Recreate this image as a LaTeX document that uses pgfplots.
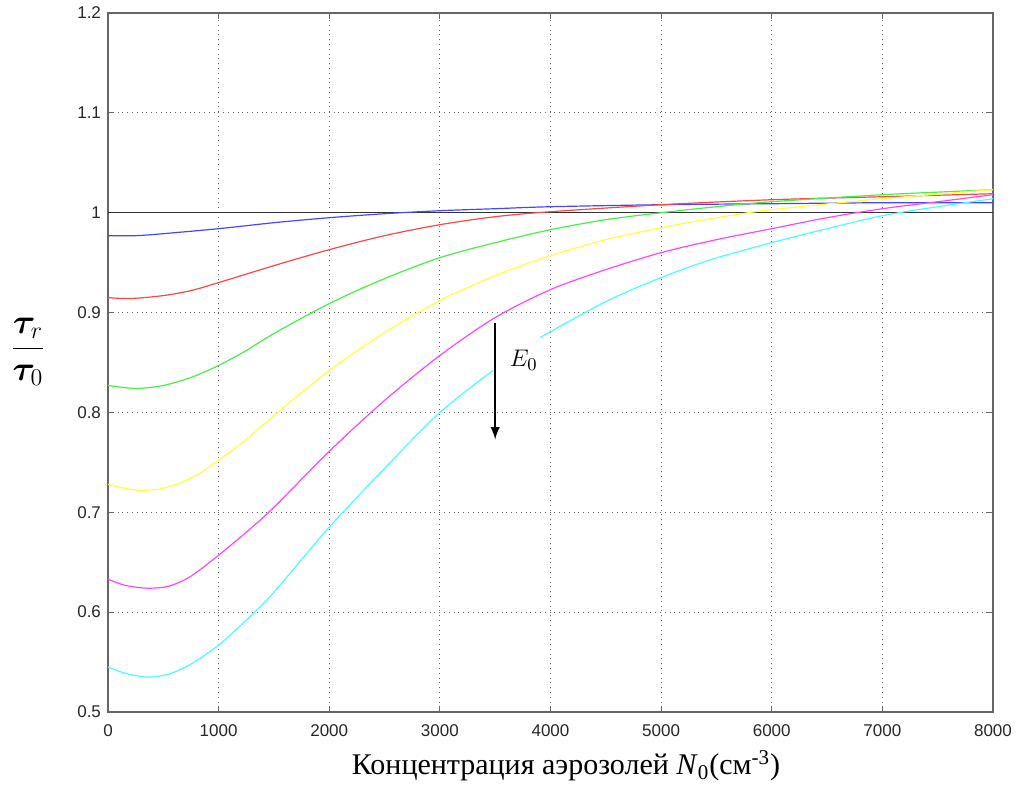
\documentclass[border=0pt]{standalone}
\usepackage{amsmath}
\usepackage{bm}
\usepackage{fontspec}
\setmainfont{Liberation Serif}
\setsansfont{Liberation Sans}
\usepackage{pgfplots}
\pgfplotsset{compat=1.18}
\definecolor{cblue}{RGB}{70,70,255}
\definecolor{cred}{RGB}{255,70,70}
\definecolor{cgreen}{RGB}{70,240,70}
\definecolor{cyellow}{RGB}{255,255,60}
\definecolor{cmag}{RGB}{255,70,255}
\definecolor{ccyan}{RGB}{70,255,255}
\begin{document}
\begin{tikzpicture}
\useasboundingbox (0,0) rectangle (512.5pt,393.5pt);
\begin{axis}[
  at={(54pt,37.5pt)}, anchor=south west,
  scale only axis, width=442.5pt, height=349.5pt,
  xmin=0, xmax=8000, ymin=0.5, ymax=1.2,
  xtick={0,1000,...,8000}, ytick={0.5,0.6,...,1.2},
  yticklabels={0.5,0.6,0.7,0.8,0.9,1,1.1,1.2},
  scaled x ticks=false,
  xticklabel style={/pgf/number format/1000 sep={}, yshift=-3pt},
  /pgf/number format/assume math mode=true,
  tick label style={font=\sffamily\fontsize{8.5}{10}\selectfont, text=black!85},
  grid=major,
  major grid style={gray!80!black, dotted, line width=0.5pt},
  tick align=inside,
  major tick length=3pt,
  axis line style={gray!80!black, line width=0.6pt},
  every tick/.style={gray!80!black},
  enlargelimits=false, clip=true,
]
\addplot[gray!40!black, line width=0.7pt] coordinates {(0,1) (8000,1)};
\addplot[cblue, line width=0.6pt, smooth] coordinates {
(0,0.977) (250,0.977) (500,0.979) (1000,0.984) (1500,0.990) (2000,0.995) (2500,0.999) (3000,1.002) (3500,1.004) (4000,1.006) (5000,1.008) (6000,1.009) (7000,1.010) (8000,1.010)};
\addplot[cred, line width=0.6pt, smooth] coordinates {
(0,0.915) (200,0.914) (500,0.917) (750,0.922) (1000,0.930) (1500,0.947) (2000,0.963) (2500,0.977) (3000,0.988) (3500,0.996) (4000,1.001) (5000,1.008) (6000,1.013) (7000,1.016) (8000,1.019)};
\addplot[cgreen, line width=0.6pt, smooth] coordinates {
(0,0.827) (250,0.824) (500,0.827) (750,0.835) (1000,0.847) (1250,0.862) (1500,0.879) (2000,0.909) (2500,0.934) (3000,0.955) (3500,0.970) (4000,0.983) (4500,0.993) (5000,1.000) (5500,1.006) (6000,1.011) (7000,1.018) (8000,1.023)};
\addplot[cyellow, line width=0.6pt, smooth] coordinates {
(0,0.728) (150,0.724) (300,0.722) (500,0.724) (750,0.734) (1000,0.752) (1250,0.773) (1500,0.797) (2000,0.842) (2500,0.880) (3000,0.912) (3500,0.937) (4000,0.957) (4500,0.973) (5000,0.985) (5500,0.995) (6000,1.003) (7000,1.014) (8000,1.023)};
\addplot[cmag, line width=0.6pt, smooth] coordinates {
(0,0.633) (150,0.627) (350,0.624) (550,0.626) (750,0.636) (1000,0.657) (1250,0.680) (1500,0.705) (2000,0.761) (2500,0.812) (3000,0.857) (3500,0.895) (4000,0.923) (4500,0.943) (5000,0.960) (5500,0.973) (6000,0.984) (6500,0.995) (7000,1.004) (7500,1.011) (8000,1.018)};
\addplot[ccyan, line width=0.6pt, smooth] coordinates {
(0,0.545) (150,0.539) (350,0.535) (550,0.538) (750,0.548) (1000,0.567) (1250,0.592) (1500,0.620) (2000,0.685) (2500,0.744) (3000,0.800) (3480,0.842)};
\addplot[ccyan, line width=0.6pt, smooth] coordinates {
(3906,0.875) (4500,0.911) (5000,0.935) (5450,0.953) (6000,0.970) (6500,0.984) (7000,0.997) (7500,1.006) (8000,1.014)};
\draw[-latex, line width=1.1pt] (axis cs:3500,0.89) -- (axis cs:3500,0.773);
\node[anchor=west, font=\fontsize{13}{15}\selectfont] at (axis cs:3570,0.852) {$E_0$};
\end{axis}
\node at (14pt,217.5pt) {\fontsize{17}{20}\selectfont$\dfrac{\bm{\tau}_{r}}{\bm{\tau}_{0}}$};
\node at (283pt,10.5pt) {\fontsize{15}{17}\selectfont Концентрация аэрозолей \textit{N}\textsubscript{0}(см\textsuperscript{-3})};
\end{tikzpicture}
\end{document}
